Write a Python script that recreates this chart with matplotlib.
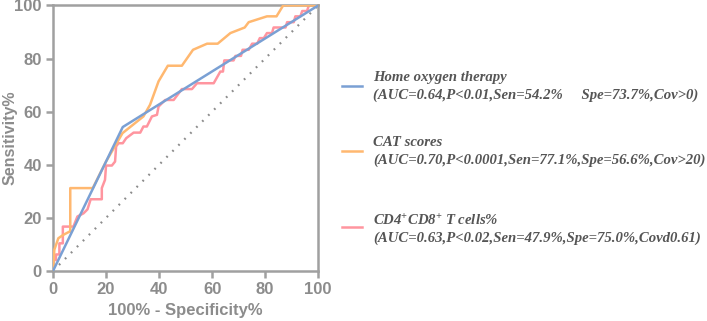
import matplotlib
matplotlib.use("Agg")
import matplotlib.pyplot as plt
from matplotlib.lines import Line2D

plt.rcParams['mathtext.fontset'] = 'custom'
plt.rcParams['mathtext.rm'] = 'Liberation Serif:bold:italic'
plt.rcParams['mathtext.it'] = 'Liberation Serif:bold:italic'

# ROC curves (x = 100% - specificity, y = sensitivity)
home_x = [0, 26.3, 100]
home_y = [0, 54.2, 100]

cat_x = [0, 0.5, 2.0, 3.9, 6.2, 6.5, 6.5, 15.0, 20.0, 26.2, 34.1, 36.6, 39.8, 43.3,
         48.6, 52.8, 58.1, 62.1, 66.9, 72.3, 73.8, 80.7, 84.3, 86.8, 100]
cat_y = [0, 8.0, 12.3, 13.6, 14.8, 14.8, 31.2, 31.2, 41.2, 51.9, 58.2, 62.6, 71.4, 77.3,
         77.3, 83.3, 85.6, 85.6, 89.6, 91.7, 93.7, 95.9, 95.9, 100, 100]

cd_x = [0, 0, 1.1, 1.1, 2.4, 2.4, 3.7, 3.7, 7.7, 9.2, 11.5, 13.0, 14.2, 18.4, 18.4,
        19.6, 20.0, 22.2, 23.4, 23.8, 24.7, 26.3, 27.6, 30.4, 32.9, 34.1, 35.4, 37.3,
        39.2, 39.8, 42.3, 45.5, 48.6, 52.4, 54.3, 60.6, 63.1, 64.1, 64.6, 68.1, 68.8,
        70.9, 71.5, 73.8, 75.1, 77.0, 78.0, 79.5, 80.7, 82.6, 83.2, 87.7, 88.3, 90.8,
        91.4, 93.3, 94.0, 95.8, 96.5, 100]
cd_y = [0, 4.1, 4.1, 6.2, 6.2, 10.4, 10.4, 16.7, 16.7, 20.5, 21.7, 23.2, 27.0, 27.0, 31.2,
        34.3, 39.7, 39.7, 41.2, 46.9, 48.1, 48.1, 50.0, 52.1, 52.1, 54.4, 54.4, 58.2,
        58.8, 61.9, 64.4, 64.4, 68.5, 68.5, 70.7, 70.7, 75.1, 75.1, 79.3, 79.3, 81.0,
        81.0, 83.3, 83.3, 85.6, 85.6, 87.7, 87.7, 89.6, 89.6, 91.7, 91.7, 93.7, 93.7,
        95.9, 95.9, 97.9, 97.9, 100, 100]

names = ["Home oxygen therapy", "CAT scores", "CD4$^{+}$CD8$^{+}$ T cells%"]
stats = ["(AUC=0.64,P<0.01,Sen=54.2%     Spe=73.7%,Cov>0)",
         "(AUC=0.70,P<0.0001,Sen=77.1%,Spe=56.6%,Cov>20)",
         "(AUC=0.63,P<0.02,Sen=47.9%,Spe=75.0%,Covd0.61)"]
colors = ["#7aa0d4", "#ffb870", "#ff959f"]
ticks = [0, 20, 40, 60, 80, 100]

grey = "#8c8c8c"
fig = plt.figure(figsize=(7.07, 3.21), dpi=100)
ax = fig.add_axes([0.075, 0.156, 0.375, 0.827])

ax.plot([0, 100], [0, 100], color=grey, lw=1.6, linestyle=(0, (0.8, 3)), zorder=1)
ax.plot(cd_x, cd_y, color=colors[2], lw=1.8, zorder=2)
ax.plot(cat_x, cat_y, color=colors[1], lw=1.8, zorder=3)
ax.plot(home_x, home_y, color=colors[0], lw=1.8, zorder=4)

ax.set_xlim(0, 100)
ax.set_ylim(0, 100)
ax.set_xticks(ticks)
ax.set_yticks(ticks)
for s in ax.spines.values():
    s.set_color("#a0a0a0")
    s.set_linewidth(1.8)
ax.tick_params(colors="#a0a0a0", width=1.8, length=5, labelcolor=grey, labelsize=12, pad=3)
for lab in ax.get_xticklabels() + ax.get_yticklabels():
    lab.set_fontweight("bold")
    lab.set_fontfamily("Liberation Sans")
xl = ax.set_xlabel("100% - Specificity%", fontsize=12, fontweight="bold", color=grey,
                   family="Liberation Sans")
yl = ax.set_ylabel("Sensitivity%", fontsize=11.5, fontweight="bold", color=grey,
                   family="Liberation Sans")
ax.xaxis.set_label_coords(0.5, -0.15)
xl.set_va("center")
ax.yaxis.set_label_coords(-0.163, 0.5)
yl.set_va("center")

# legend drawn by hand to match the spacing
W, H = 707, 321
rows = [(86, 78, 95), (151, 143, 160), (227, 221, 238)]
for i, (ly, t1, t2) in enumerate(rows):
    fig.add_artist(Line2D([342 / W, 362 / W], [1 - ly / H, 1 - ly / H],
                          color=colors[i], lw=1.8))
    fig.text(373 / W, 1 - t1 / H, names[i], fontsize=10.6, family="Liberation Serif",
             style="italic", weight="bold", color="#555555", va="center")
    fig.text(373 / W, 1 - t2 / H, stats[i], fontsize=10.6, family="Liberation Serif",
             style="italic", weight="bold", color="#555555", va="center")

fig.savefig("out.png", dpi=100)
